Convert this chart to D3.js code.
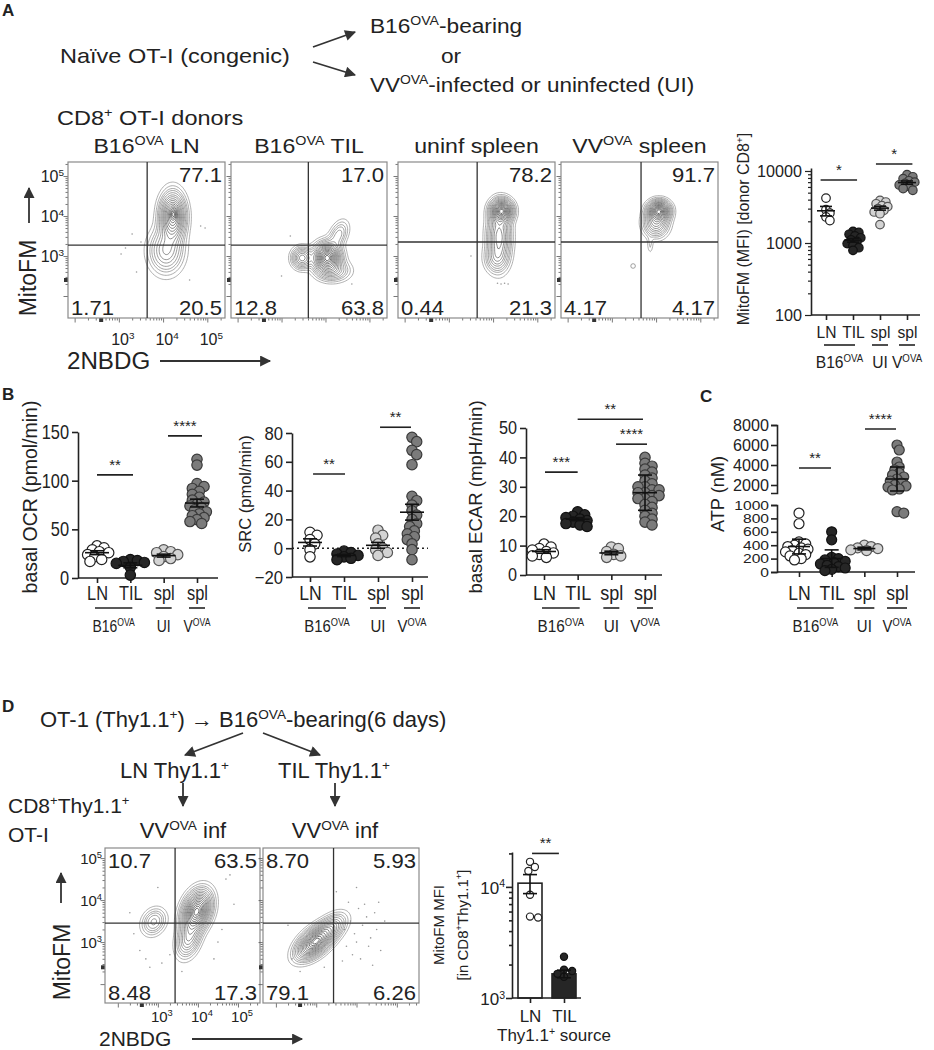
<!DOCTYPE html>
<html>
<head>
<meta charset="utf-8">
<title>MitoFM / 2NBDG figure</title>
<script src="https://cdn.jsdelivr.net/npm/d3@7/dist/d3.min.js"></script>
<style>
  body { margin: 0; background: #fff; }
  svg text { font-family: "Liberation Sans", Arial, Helvetica, sans-serif; fill: #222; }
</style>
</head>
<body>
<svg id="fig" width="934" height="1050"></svg>
<script>
// ---------------- data ----------------
// flow plots, values in log10 units (x = 2NBDG, y = MitoFM)
const flowTitlesA = ["B16^{OVA} LN", "B16^{OVA} TIL", "uninf spleen", "VV^{OVA} spleen"];
const flowQuadA = [["", "77.1", "1.71", "20.5"], ["", "17.0", "12.8", "63.8"],
                   ["", "78.2", "0.44", "21.3"], ["", "91.7", "4.17", "4.17"]];
const flowGatesA = [[3.64, 3.27], [3.61, 3.27], [3.64, 3.35], [3.66, 3.35]];
// populations: [x centre, y centre, x spread, y spread, correlation, peak]
const flowPopsA = [
  [[4.2, 4.0, 0.16, 0.33, 0, 1], [4.05, 3.15, 0.22, 0.32, 0, 0.4], [4.22, 4.08, 0.05, 0.1, 0, 0.3]],
  [[4.02, 2.98, 0.17, 0.2, 0, 1], [3.45, 2.97, 0.13, 0.15, 0, 0.42], [4.28, 3.55, 0.13, 0.2, 0.4, 0.18], [4.15, 2.65, 0.22, 0.15, 0, 0.25]],
  [[4.18, 4.15, 0.14, 0.16, 0, 1], [4.12, 3.5, 0.15, 0.4, 0, 0.55], [4.05, 2.95, 0.15, 0.2, 0, 0.2]],
  [[4.05, 4.15, 0.14, 0.14, 0, 1], [3.98, 3.85, 0.16, 0.2, 0, 0.45], [3.85, 3.3, 0.04, 0.14, 0, 0.06]]
];
const flowDotsA = [
  [[3.3, 3.55], [3.15, 3.2], [3.05, 3.05], [3.5, 3.35], [4.85, 3.75], [4.95, 3.7], [3.4, 2.6], [4.6, 2.4]],
  [[3.0, 2.5], [4.6, 2.3], [3.2, 3.5]],
  [[4.1, 2.32], [4.18, 2.3], [4.26, 2.32], [4.34, 2.3], [3.5, 3.0]],
  []
];
const flowRingsA = [[], [], [], [[3.48, 2.75]]];

const flowTitlesD = ["VV^{OVA} inf", "VV^{OVA} inf"];
const flowQuadD = [["10.7", "63.5", "8.48", "17.3"], ["8.70", "5.93", "79.1", "6.26"]];
const flowGatesD = [[3.43, 3.45], [3.43, 3.45]];
const flowPopsD = [
  [[3.95, 3.75, 0.2, 0.27, 0.3, 1], [3.75, 3.1, 0.17, 0.25, 0.3, 0.35], [2.88, 3.5, 0.17, 0.18, 0.2, 0.22]],
  [[2.95, 3.02, 0.25, 0.22, 0.55, 1], [3.35, 3.35, 0.22, 0.2, 0.5, 0.3]]
];
const flowDotsD = [
  [[2.4, 3.2], [2.55, 2.8], [2.7, 2.6], [3.1, 2.5], [3.3, 2.7], [4.6, 3.3], [4.7, 4.5], [4.9, 3.9], [3.6, 2.3],
   [2.3, 3.7], [4.4, 2.6], [3.0, 4.3], [4.8, 4.6], [2.8, 2.4], [4.5, 3.0]],
  [[3.7, 3.3], [3.85, 3.5], [3.95, 3.2], [4.05, 3.8], [4.15, 3.4], [4.25, 3.6], [4.35, 3.1], [4.45, 3.7], [3.75, 2.9],
   [3.9, 2.7], [4.0, 3.0], [4.1, 2.6], [4.2, 3.9], [4.3, 2.9], [4.5, 3.3], [4.6, 2.8], [3.8, 3.95], [4.55, 3.95],
   [3.65, 2.55], [4.4, 2.45], [2.4, 2.6], [2.6, 2.3], [3.2, 2.4], [2.3, 3.4], [4.7, 3.5], [3.5, 4.2], [4.0, 4.3]]
];

// category axis shared by the scatter plots
const cats = ["LN", "TIL", "spl", "spl"];
const groupLabels = [["B16^{OVA}", 0, 1], ["UI", 2, 2], ["V^{OVA}", 3, 3]];

// A right: MitoFM MFI [donor CD8+]
const mfiLN = [4200, 2900, 2600, 2300, 2050];
const mfiTIL = [1450, 1400, 1320, 1250, 1180, 1100, 1050, 980, 920, 860, 790];
const mfiUI = [3900, 3700, 3500, 3300, 3200, 3000, 2850, 2700, 2550, 1800];
const mfiVV = [8900, 8300, 7800, 7300, 7000, 6700, 6400, 6100, 5700, 5400];
const mfiMean = [2800, 1090, 3050, 6900];
const mfiErr = [420, 65, 190, 370];
const mfiSig = [[-0.2, 1.15, 7500, "*"], [1.85, 3.2, 12500, "*"]];
const mfiTicks = [100, 1000, 10000];

// B: basal OCR
const ocrLN = [33, 31, 29, 27, 26, 24, 22, 19, 17];
const ocrTIL = [19, 18, 17, 16, 15, 11, 3];
const ocrUI = [29, 27, 26, 24, 22, 20, 18];
const ocrVV = [122, 116, 97, 94, 92, 89, 86, 83, 80, 78, 76, 74, 72, 70, 68, 66, 64, 62, 60, 58, 56];
const ocrMean = [26, 13, 23, 77];
const ocrErr = [2, 2.5, 1.5, 4];
const ocrSig = [[0, 1.08, 106, "**"], [2.13, 3.15, 146, "****"]];
const ocrTicks = [0, 50, 100, 150];

// B: SRC
const srcLN = [11, 9, 6, 3, -1, -6];
const srcTIL = [-2, -3, -4, -5, -6, -7, -8];
const srcUI = [12.5, 9, 7, 3, 0, -1, -3, -5];
const srcVV = [77, 74, 68, 65, 58, 36, 33, 30, 26, 23, 20, 17, 15, 12, 10, 8, 6, 3, -1, -8];
const srcMean = [4, -5, 2, 25];
const srcErr = [2.5, 0.8, 2, 5.5];
const srcSig = [[0.09, 1.03, 51.5, "**"], [2.06, 2.97, 84, "**"]];
const srcTicks = [-20, 0, 20, 40, 60, 80];

// B: basal ECAR
const ecarLN = [10.5, 9.5, 9, 8.5, 8, 7.5, 7, 6.5, 6];
const ecarTIL = [21.5, 20.5, 20, 19.5, 19, 18.5, 18, 17.5, 17, 16.5];
const ecarUI = [9.5, 9, 8, 7, 6.5, 6];
const ecarVV = [40, 38, 37, 36, 35, 34, 33, 32, 31, 30, 30, 29, 29, 28, 28, 27, 27, 26, 26, 25, 24, 23, 22, 21, 20, 19, 18, 17];
const ecarMean = [8, 19, 7.5, 28];
const ecarErr = [0.6, 0.5, 0.6, 6];
const ecarSig = [[0.03, 1.0, 35, "***"], [1.0, 2.94, 53, "**"], [2.14, 3.06, 44.5, "****"]];
const ecarTicks = [0, 10, 20, 30, 40, 50];

// C: ATP (broken axis)
const atpLN = [880, 720, 450, 420, 400, 380, 360, 340, 320, 300, 280, 260, 240, 200, 180];
const atpTIL = [600, 480, 220, 200, 180, 160, 140, 120, 100, 80, 60, 40, 20];
const atpUI = [400, 380, 360, 350, 330, 320];
const atpVV = [6000, 5500, 4300, 3800, 3500, 3200, 3000, 2800, 2600, 2400, 2200, 2000, 1900, 1800, 1600, 1500, 900, 880];
const atpMean = [380, 200, 350, 2600];
const atpErr = [110, 130, 20, 1200];
const atpSig = [[0, 0.98, 3700, "**"], [2.02, 2.97, 7600, "****"]];
const atpTicksLow = [0, 200, 400, 600, 800, 1000];
const atpTicksHigh = [2000, 4000, 6000, 8000];

// D right: MitoFM MFI bars
const dCats = ["LN", "TIL"];
const dLN = [16800, 15100, 13900, 8500, 5400, 5300];
const dTIL = [2350, 1800, 1750, 1650, 1550];
const dMean = [10800, 1650];
const dErr = [2100, 130];
const dSig = [[0.06, 0.85, 20000, "**"]];

// ---------------- helpers ----------------
const fig = d3.select("#fig");
const defs = fig.append("defs");
defs.append("marker").attr("id", "ah")
  .attr("viewBox", "0 0 10 10").attr("refX", 9).attr("refY", 5)
  .attr("markerUnits", "userSpaceOnUse").attr("markerWidth", 13).attr("markerHeight", 11)
  .attr("orient", "auto")
  .append("path").attr("d", "M0,0L10,5L0,10z").attr("fill", "#333");

function arrow(x1, y1, x2, y2) {
  fig.append("line").attr("x1", x1).attr("y1", y1).attr("x2", x2).attr("y2", y2)
    .attr("stroke", "#333").attr("stroke-width", 1.8).attr("marker-end", "url(#ah)");
}

// "B16^{OVA}" -> superscript tspans
function rich(t, str, fs) {
  const parts = str.split(/(\^\{[^}]*\})/).filter(s => s.length);
  let raised = false;
  parts.forEach(p => {
    if (p.startsWith("^{")) {
      t.append("tspan").attr("font-size", fs * 0.62).attr("dy", raised ? 0 : -fs * 0.38).text(p.slice(2, -1));
      raised = true;
    } else {
      t.append("tspan").attr("dy", raised ? fs * 0.38 : 0).text(p);
      raised = false;
    }
  });
}

function label(g, x, y, str, o = {}) {
  const fs = o.fs || 20;
  const t = g.append("text")
    .attr("transform", `translate(${x},${y}) scale(${o.sx || 1},1)` + (o.rot ? ` rotate(${o.rot})` : ""))
    .attr("font-size", fs)
    .attr("text-anchor", o.anchor || "start");
  if (o.bold) t.attr("font-weight", "bold");
  rich(t, str, fs);
  return t;
}

function styleAxis(ag, fs, sx) {
  ag.attr("font-size", fs);
  ag.selectAll("path, line").attr("stroke", "#222").attr("stroke-width", 1.6);
  ag.selectAll("text").attr("fill", "#222");
  if (sx && sx !== 1) {
    ag.selectAll("text").each(function () {
      const t = d3.select(this);
      const x = +t.attr("x") || 0;
      t.attr("x", x / sx).attr("transform", `scale(${sx},1)`);
    });
  }
}

// ---------- flow contour plot ----------
const contourLevels = [0.025, 0.05, 0.08, 0.11, 0.15, 0.2, 0.25, 0.31, 0.37, 0.44, 0.51, 0.59, 0.67, 0.75, 0.83, 0.9, 0.96];
let clipCount = 0;

function flowPlot(g, box, xd, yd, gate, pops, dots, rings, quad) {
  const [x0, y0, w, h] = box;
  const x = d3.scaleLinear().domain(xd).range([x0, x0 + w]);
  const y = d3.scaleLinear().domain(yd).range([y0 + h, y0]);
  const id = "clip" + (clipCount++);
  defs.append("clipPath").attr("id", id)
    .append("rect").attr("x", x0).attr("y", y0).attr("width", w).attr("height", h);

  const step = 1.5;
  const nx = Math.ceil(w / step), ny = Math.ceil(h / step);
  const grid = new Float64Array(nx * ny);
  for (let j = 0; j < ny; j++) {
    for (let i = 0; i < nx; i++) {
      const lx = x.invert(x0 + i * step), ly = y.invert(y0 + j * step);
      let s = 0;
      for (const [cx, cy, sx, sy, rho, pk] of pops) {
        const dx = (lx - cx) / sx, dy = (ly - cy) / sy;
        s += pk * Math.exp(-0.5 * (dx * dx - 2 * rho * dx * dy + dy * dy) / (1 - rho * rho));
      }
      grid[j * nx + i] = s;
    }
  }
  const top = d3.max(grid);
  const cs = d3.contours().size([nx, ny]).thresholds(contourLevels.map(f => f * top))(grid);
  const proj = d3.geoTransform({ point(px, py) { this.stream.point(x0 + px * step, y0 + py * step); } });
  const shade = d3.scaleLinear().domain([0, cs.length - 1]).range(["#8e8e8e", "#2e2e2e"]);

  const pg = g.append("g").attr("clip-path", `url(#${id})`);
  pg.selectAll("circle.dot").data(dots).join("circle").attr("class", "dot")
    .attr("cx", d => x(d[0])).attr("cy", d => y(d[1])).attr("r", 0.8).attr("fill", "#999");
  pg.selectAll("circle.ring").data(rings).join("circle").attr("class", "ring")
    .attr("cx", d => x(d[0])).attr("cy", d => y(d[1])).attr("r", 2.3)
    .attr("fill", "none").attr("stroke", "#888").attr("stroke-width", 0.8);
  pg.selectAll("path").data(cs).join("path")
    .attr("d", d3.geoPath(proj)).attr("fill", "none")
    .attr("stroke", (d, i) => shade(i)).attr("stroke-width", 0.7);

  // ticks
  const minor = [];
  for (let n = 2; n < 6; n++) for (let k = 2; k < 10; k++) minor.push(n + Math.log10(k));
  const major = [2, 3, 4, 5];
  const inY = v => v > yd[0] && v < yd[1], inX = v => v > xd[0] && v < xd[1];
  [[minor, 2.5], [major, 4.5]].forEach(([vals, len]) => {
    const ly = g.append("g").attr("transform", `translate(${x0},0)`)
      .call(d3.axisLeft(y).tickValues(vals.filter(inY)).tickSize(len).tickSizeOuter(0).tickFormat(""));
    ly.select(".domain").remove();
    ly.selectAll("line").attr("stroke", "#555").attr("stroke-width", 0.8);
    const lx = g.append("g").attr("transform", `translate(0,${y0 + h})`)
      .call(d3.axisBottom(x).tickValues(vals.filter(inX)).tickSize(len).tickSizeOuter(0).tickFormat(""));
    lx.select(".domain").remove();
    lx.selectAll("line").attr("stroke", "#555").attr("stroke-width", 0.8);
  });
  // "zero" marks of the biexponential scale
  g.append("rect").attr("x", x0 - 4).attr("y", y(2.4) - 2).attr("width", 4).attr("height", 4).attr("fill", "#333");
  g.append("rect").attr("x", x(2.6) - 2).attr("y", y0 + h).attr("width", 4).attr("height", 4).attr("fill", "#333");

  g.append("rect").attr("x", x0).attr("y", y0).attr("width", w).attr("height", h)
    .attr("fill", "none").attr("stroke", "#8a8a8a").attr("stroke-width", 1.2);
  g.append("line").attr("x1", x(gate[0])).attr("x2", x(gate[0])).attr("y1", y0).attr("y2", y0 + h)
    .attr("stroke", "#333").attr("stroke-width", 1.3);
  g.append("line").attr("x1", x0).attr("x2", x0 + w).attr("y1", y(gate[1])).attr("y2", y(gate[1]))
    .attr("stroke", "#333").attr("stroke-width", 1.3);

  const qo = { fs: 21, sx: 1.05 };
  if (quad[0]) label(g, x0 + 3, y0 + 20, quad[0], qo);
  if (quad[1]) label(g, x0 + w - 3, y0 + 20, quad[1], { ...qo, anchor: "end" });
  if (quad[2]) label(g, x0 + 3, y0 + h - 3, quad[2], qo);
  if (quad[3]) label(g, x0 + w - 3, y0 + h - 3, quad[3], { ...qo, anchor: "end" });
  return { x, y };
}

// ---------- scatter helpers ----------
const styles = [
  { fill: "#ffffff", stroke: "#222" },
  { fill: "#262626", stroke: "#111" },
  { fill: "#d3d3d3", stroke: "#555" },
  { fill: "#7b7b7b", stroke: "#3a3a3a" }
];

// simple deterministic beeswarm: returns [dx, y] per value
function swarm(vals, yv, gap, step) {
  const placed = [];
  vals.slice().sort((a, b) => b - a).forEach(v => {
    const py = yv(v);
    let dx = 0;
    for (let k = 0; k < 80; k++) {
      const off = (k % 2 ? 1 : -1) * Math.ceil(k / 2) * step;
      if (placed.every(p => Math.hypot(p[0] - off, p[1] - py) >= gap)) { dx = off; break; }
    }
    placed.push([dx, py]);
  });
  return placed;
}

function drawGroups(g, cx, sets, yv, means, errs, o) {
  sets.forEach((vals, k) => {
    const st = o.styles ? o.styles[k] : styles[k];
    const pts = swarm(vals, yv, o.gap, o.r * 0.45);
    g.append("g").selectAll("circle").data(pts).join("circle")
      .attr("cx", p => cx(k) + p[0]).attr("cy", p => p[1]).attr("r", o.r)
      .attr("fill", st.fill).attr("stroke", st.stroke).attr("stroke-width", 1.2);
    const m = means[k], e = errs[k], c = cx(k);
    const eg = g.append("g").attr("stroke", "#111").attr("stroke-width", 1.6);
    if (o.half) eg.append("line").attr("x1", c - o.half).attr("x2", c + o.half).attr("y1", yv(m)).attr("y2", yv(m));
    eg.append("line").attr("x1", c).attr("x2", c).attr("y1", yv(m - e)).attr("y2", yv(m + e));
    [m - e, m + e].forEach(v => eg.append("line")
      .attr("x1", c - o.cap).attr("x2", c + o.cap).attr("y1", yv(v)).attr("y2", yv(v)));
  });
}

function drawSig(g, cx, yv, sig, fs) {
  sig.forEach(([a, b, v, s]) => {
    const y = yv(v);
    g.append("line").attr("x1", cx(a)).attr("x2", cx(b)).attr("y1", y).attr("y2", y)
      .attr("stroke", "#222").attr("stroke-width", 1.6);
    g.append("text").attr("x", (cx(a) + cx(b)) / 2).attr("y", y - 5)
      .attr("text-anchor", "middle").attr("font-size", fs).text(s);
  });
}

// category x-axis with underlines and group names
function catAxis(g, o) {
  g.append("line").attr("x1", o.ax).attr("x2", o.xEnd).attr("y1", o.y).attr("y2", o.y)
    .attr("stroke", "#222").attr("stroke-width", 1.6);
  const ag = g.append("g").attr("transform", `translate(0,${o.y})`)
    .call(d3.axisBottom(o.cx).tickValues(o.labels.map((d, i) => i)).tickFormat(i => o.labels[i]).tickSize(5));
  ag.select(".domain").remove();
  ag.selectAll("text").attr("y", o.labY - o.y).attr("dy", 0);
  styleAxis(ag, o.fs, o.sx);
  if (!o.groups) return;
  o.groups.forEach(([name, a, b]) => {
    const x1 = a === b ? o.cx(a) - o.single : o.cx(a) - 2;
    const x2 = a === b ? o.cx(b) + o.single : o.cx(b) + 2;
    g.append("line").attr("x1", x1).attr("x2", x2).attr("y1", o.underY).attr("y2", o.underY)
      .attr("stroke", "#222").attr("stroke-width", 1.6);
    label(g, (x1 + x2) / 2, o.groupY, name, { fs: o.gfs, sx: o.sx, anchor: "middle" });
  });
}

const plain = d3.format("d");

// ---------------- panel A ----------------
label(fig, 2, 16, "A", { fs: 17, bold: true });
label(fig, 60, 63, "Naïve OT-I (congenic)", { fs: 21, sx: 1.12 });
arrow(313, 47, 355, 32);
arrow(313, 62, 355, 75);
label(fig, 370, 33, "B16^{OVA}-bearing", { fs: 21, sx: 1.08 });
label(fig, 441, 63, "or", { fs: 21, sx: 1.08 });
label(fig, 370, 92, "VV^{OVA}-infected or uninfected (UI)", { fs: 21, sx: 1.07 });
label(fig, 57, 125, "CD8^{+} OT-I donors", { fs: 21, sx: 1.12 });

const boxesA = [[68, 162, 157, 156], [231, 162, 156, 156], [398, 162, 157, 156], [561, 162, 157, 156]];
let scA = null;
boxesA.forEach((b, i) => {
  const gp = fig.append("g");
  const sc = flowPlot(gp, b, [1.85, 5.4], [1.45, 5.35], flowGatesA[i], flowPopsA[i], flowDotsA[i], flowRingsA[i], flowQuadA[i]);
  label(fig, b[0] + b[2] / 2, 153, flowTitlesA[i], { fs: 21, sx: 1.1, anchor: "middle" });
  if (i === 0) scA = sc;
});
[5, 4, 3].forEach(v => label(fig, 64, scA.y(v) + 6, "10^{" + v + "}", { fs: 16, anchor: "end" }));
[3, 4, 5].forEach(v => label(fig, scA.x(v) + 4, 345, "10^{" + v + "}", { fs: 16, anchor: "middle" }));
label(fig, 36, 278, "MitoFM", { fs: 23, rot: -90, anchor: "middle" });
arrow(29, 223, 29, 188);
label(fig, 67, 369, "2NBDG", { fs: 23, sx: 1.05 });
arrow(160, 361, 270, 361);

// A right: MitoFM MFI scatter (log)
{
  const g = fig.append("g");
  const y = d3.scaleLog().domain([100, 11000]).range([315, 168]);
  const cx = d3.scaleLinear().domain([0, 3]).range([826, 907]);
  const minor = [];
  [100, 1000].forEach(d => { for (let k = 2; k < 10; k++) minor.push(d * k); });
  const ay = g.append("g").attr("transform", "translate(811,0)")
    .call(d3.axisLeft(y).tickValues(mfiTicks.concat(minor)).tickSize(6).tickSizeOuter(0)
      .tickFormat(d => mfiTicks.includes(d) ? plain(d) : ""));
  ay.selectAll(".tick").filter(d => !mfiTicks.includes(d)).select("line").attr("x2", -3);
  styleAxis(ay, 17, 0.95);
  ay.selectAll(".tick line").attr("stroke-width", 1.2);
  catAxis(g, { ax: 811, xEnd: 920, y: 315, cx, labels: cats, labY: 338, fs: 17, sx: 0.92,
    groups: groupLabels, underY: 345, groupY: 368, gfs: 17, single: 8 });
  drawGroups(g, cx, [mfiLN, mfiTIL, mfiUI, mfiVV], y, mfiMean, mfiErr, { r: 4.3, gap: 4.6, half: 9, cap: 6 });
  drawSig(g, cx, y, mfiSig, 15);
  label(g, 749, 229, "MitoFM (MFI) [donor CD8^{+}]", { fs: 16, rot: -90, anchor: "middle" });
}

// ---------------- panel B ----------------
label(fig, 2, 400, "B", { fs: 17, bold: true });

function linearScatter(o) {
  const g = fig.append("g");
  const y = d3.scaleLinear().domain(o.dom).range(o.range);
  const cx = d3.scaleLinear().domain([0, 3]).range(o.cats);
  const ay = g.append("g").attr("transform", `translate(${o.ax},0)`)
    .call(d3.axisLeft(y).tickValues(o.ticks).tickSize(6).tickSizeOuter(0).tickPadding(3).tickFormat(plain));
  styleAxis(ay, o.tfs, o.sx);
  if (o.zero) {
    g.append("line").attr("x1", o.ax).attr("x2", o.xEnd).attr("y1", y(0)).attr("y2", y(0))
      .attr("stroke", "#222").attr("stroke-width", 1.4).attr("stroke-dasharray", "2,3");
  }
  catAxis(g, { ax: o.ax, xEnd: o.xEnd, y: o.range[0], cx, labels: cats, labY: 600, fs: 20, sx: o.sx,
    groups: groupLabels, underY: 608, groupY: 632, gfs: 17, single: 8 });
  drawGroups(g, cx, o.sets, y, o.mean, o.err, { r: 5.2, gap: 5.6, half: 12, cap: 7 });
  drawSig(g, cx, y, o.sig, 15);
  label(g, o.titleX, o.titleY, o.title, { fs: o.titleFs, rot: -90, anchor: "middle" });
}

linearScatter({ ax: 78, xEnd: 218, dom: [0, 150], range: [578, 432], cats: [97, 197], ticks: ocrTicks,
  sets: [ocrLN, ocrTIL, ocrUI, ocrVV], mean: ocrMean, err: ocrErr, sig: ocrSig, tfs: 20, sx: 0.82,
  title: "basal OCR (pmol/min)", titleX: 37, titleY: 497, titleFs: 19.5 });
linearScatter({ ax: 292, xEnd: 428, dom: [-20, 80], range: [577, 433], cats: [310, 412], ticks: srcTicks,
  sets: [srcLN, srcTIL, srcUI, srcVV], mean: srcMean, err: srcErr, sig: srcSig, tfs: 19, sx: 0.88, zero: true,
  title: "SRC (pmol/min)", titleX: 251, titleY: 494, titleFs: 16.5 });
linearScatter({ ax: 526, xEnd: 662, dom: [0, 50], range: [575, 428], cats: [544, 645], ticks: ecarTicks,
  sets: [ecarLN, ecarTIL, ecarUI, ecarVV], mean: ecarMean, err: ecarErr, sig: ecarSig, tfs: 18, sx: 0.9,
  title: "basal ECAR (mpH/min)", titleX: 482, titleY: 497, titleFs: 18.6 });

// ---------------- panel C ----------------
label(fig, 700, 402, "C", { fs: 17, bold: true });
{
  const g = fig.append("g");
  const low = d3.scaleLinear().domain([0, 1000]).range([572, 505]);
  const high = d3.scaleLinear().domain([1200, 8000]).range([493, 425]);
  const yv = v => v <= 1100 ? low(Math.min(v, 1000)) : high(Math.max(v, 1200));
  const cx = d3.scaleLinear().domain([0, 3]).range([799, 897]);
  const a1 = g.append("g").attr("transform", "translate(777,0)")
    .call(d3.axisLeft(low).tickValues(atpTicksLow).tickSize(6).tickSizeOuter(6).tickPadding(2).tickFormat(plain));
  styleAxis(a1, 12.5, 1.25);
  const a2 = g.append("g").attr("transform", "translate(777,0)")
    .call(d3.axisLeft(high).tickValues(atpTicksHigh).tickSize(6).tickSizeOuter(6).tickPadding(2).tickFormat(plain));
  styleAxis(a2, 17, 0.95);
  catAxis(g, { ax: 777, xEnd: 915, y: 572, cx, labels: cats, labY: 600, fs: 20, sx: 0.88,
    groups: groupLabels, underY: 608, groupY: 632, gfs: 17, single: 10 });
  drawGroups(g, cx, [atpLN, atpTIL, atpUI, atpVV], yv, atpMean, atpErr, { r: 5, gap: 5.4, half: 11, cap: 7 });
  drawSig(g, cx, yv, atpSig, 15);
  label(g, 724, 494, "ATP (nM)", { fs: 18.2, rot: -90, anchor: "middle" });
}

// ---------------- panel D ----------------
label(fig, 2, 712, "D", { fs: 17, bold: true });
label(fig, 40, 727, "OT-1 (Thy1.1^{+}) → B16^{OVA}-bearing(6 days)", { fs: 22 });
arrow(243, 733, 185, 755);
arrow(263, 733, 320, 755);
label(fig, 120, 778, "LN Thy1.1^{+}", { fs: 22 });
label(fig, 278, 778, "TIL Thy1.1^{+}", { fs: 22 });
arrow(183, 783, 183, 806);
arrow(335, 783, 335, 806);
label(fig, 8, 813, "CD8^{+}Thy1.1^{+}", { fs: 21 });
label(fig, 8, 842, "OT-I", { fs: 21 });

const boxesD = [[105, 848, 155, 155], [263, 848, 156, 155]];
const titleXD = [183, 335];
let scD = null;
boxesD.forEach((b, i) => {
  const gp = fig.append("g");
  const sc = flowPlot(gp, b, [1.68, 5.55], [1.55, 5.24], flowGatesD[i], flowPopsD[i], flowDotsD[i], [], flowQuadD[i]);
  label(fig, titleXD[i], 838, flowTitlesD[i], { fs: 22, anchor: "middle" });
  if (i === 0) scD = sc;
});
[5, 4, 3].forEach(v => label(fig, 102, scD.y(v) + 6, "10^{" + v + "}", { fs: 15, anchor: "end" }));
[3, 4, 5].forEach(v => label(fig, scD.x(v) + 4, 1022, "10^{" + v + "}", { fs: 15, anchor: "middle" }));
label(fig, 70, 962, "MitoFM", { fs: 23, rot: -90, anchor: "middle" });
arrow(61, 903, 61, 873);
label(fig, 99, 1046, "2NBDG", { fs: 21 });
arrow(192, 1039, 302, 1039);

// D right: bars on log axis
{
  const g = fig.append("g");
  const y = d3.scaleLog().domain([1000, 20600]).range([998, 852]);
  const cx = d3.scaleLinear().domain([0, 1]).range([530, 564]);
  const major = [1000, 10000];
  const minor = [2000, 3000, 4000, 5000, 6000, 7000, 8000, 9000, 20000];
  const ay = g.append("g").attr("transform", "translate(512,0)")
    .call(d3.axisLeft(y).tickValues(major.concat(minor)).tickSize(6).tickSizeOuter(0).tickFormat(""));
  ay.selectAll(".tick").filter(d => !major.includes(d)).select("line").attr("x2", -3);
  styleAxis(ay, 16, 1);
  major.forEach(v => label(g, 505, y(v) + 7, "10^{" + Math.round(Math.log10(v)) + "}", { fs: 17, anchor: "end" }));

  g.selectAll("rect.bar").data(dMean).join("rect").attr("class", "bar")
    .attr("x", (d, i) => cx(i) - 12).attr("width", 24)
    .attr("y", d => y(d)).attr("height", d => 998 - y(d))
    .attr("fill", (d, i) => i ? "#262626" : "#fff").attr("stroke", "#222").attr("stroke-width", 1.6);
  drawGroups(g, cx, [dLN, dTIL], y, dMean, dErr,
    { r: 3.6, gap: 7, half: 0, cap: 7, styles: [styles[0], styles[1]] });
  catAxis(g, { ax: 512, xEnd: 581, y: 998, cx, labels: dCats, labY: 1022, fs: 17, sx: 1 });
  drawSig(g, cx, y, dSig, 15);
  label(g, 497, 1041, "Thy1.1^{+} source", { fs: 17 });
  label(g, 444, 925, "MitoFM  MFI", { fs: 15, rot: -90, anchor: "middle" });
  label(g, 468, 925, "[in CD8^{+}Thy1.1^{+}]", { fs: 15, rot: -90, anchor: "middle" });
}
</script>
</body>
</html>
